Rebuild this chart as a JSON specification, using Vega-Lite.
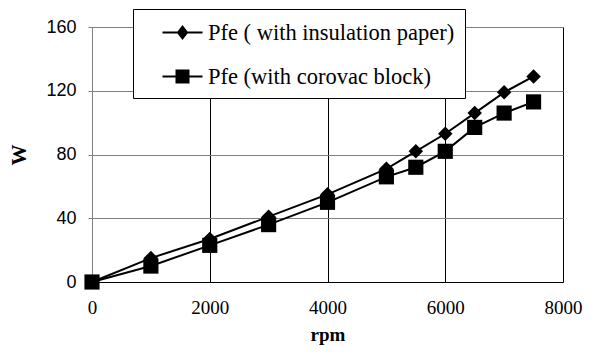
{
  "$schema": "https://vega.github.io/schema/vega-lite/v6.json",
  "width": 471,
  "height": 255,
  "autosize": "none",
  "padding": {"left": 92, "top": 27, "right": 32, "bottom": 76},
  "background": "white",
  "config": {
    "view": {"stroke": "#808080", "strokeWidth": 1},
    "font": "Liberation Serif"
  },
  "data": {
    "values": [
      {"rpm": 0, "W": 0, "series": "Pfe ( with insulation paper)"},
      {"rpm": 1000, "W": 15, "series": "Pfe ( with insulation paper)"},
      {"rpm": 2000, "W": 27, "series": "Pfe ( with insulation paper)"},
      {"rpm": 3000, "W": 41, "series": "Pfe ( with insulation paper)"},
      {"rpm": 4000, "W": 55, "series": "Pfe ( with insulation paper)"},
      {"rpm": 5000, "W": 71, "series": "Pfe ( with insulation paper)"},
      {"rpm": 5500, "W": 82, "series": "Pfe ( with insulation paper)"},
      {"rpm": 6000, "W": 93, "series": "Pfe ( with insulation paper)"},
      {"rpm": 6500, "W": 106, "series": "Pfe ( with insulation paper)"},
      {"rpm": 7000, "W": 119, "series": "Pfe ( with insulation paper)"},
      {"rpm": 7500, "W": 129, "series": "Pfe ( with insulation paper)"},
      {"rpm": 0, "W": 0, "series": "Pfe (with corovac block)"},
      {"rpm": 1000, "W": 10, "series": "Pfe (with corovac block)"},
      {"rpm": 2000, "W": 23, "series": "Pfe (with corovac block)"},
      {"rpm": 3000, "W": 36, "series": "Pfe (with corovac block)"},
      {"rpm": 4000, "W": 50, "series": "Pfe (with corovac block)"},
      {"rpm": 5000, "W": 66, "series": "Pfe (with corovac block)"},
      {"rpm": 5500, "W": 72, "series": "Pfe (with corovac block)"},
      {"rpm": 6000, "W": 82, "series": "Pfe (with corovac block)"},
      {"rpm": 6500, "W": 97, "series": "Pfe (with corovac block)"},
      {"rpm": 7000, "W": 106, "series": "Pfe (with corovac block)"},
      {"rpm": 7500, "W": 113, "series": "Pfe (with corovac block)"}
    ]
  },
  "encoding": {
    "x": {
      "field": "rpm", "type": "quantitative",
      "scale": {"domain": [0, 8000], "nice": false},
      "axis": {
        "values": [0, 2000, 4000, 6000, 8000], "format": "d", "labelFlush": false,
        "title": "rpm", "titleFont": "Liberation Serif", "titleFontSize": 19, "titleFontWeight": "bold", "titleColor": "#000", "titlePadding": 8,
        "labelFont": "Liberation Serif", "labelFontSize": 19, "labelColor": "#000", "labelPadding": 16,
        "ticks": false, "domain": true, "domainColor": "#000",
        "grid": true, "gridColor": "#000", "gridWidth": 1
      }
    },
    "y": {
      "field": "W", "type": "quantitative",
      "scale": {"domain": [0, 160], "nice": false},
      "axis": {
        "values": [0, 40, 80, 120, 160], "labelFlush": false,
        "title": "W", "titleFont": "Liberation Serif", "titleFontSize": 21, "titleFontWeight": "bold", "titleColor": "#000", "titlePadding": 16,
        "labelFont": "Liberation Sans", "labelFontSize": 18, "labelColor": "#000", "labelPadding": 12,
        "ticks": true, "tickSize": 4, "tickColor": "#808080",
        "domain": true, "domainColor": "#808080",
        "grid": true, "gridColor": "#808080", "gridWidth": 1
      }
    }
  },
  "layer": [
    {
      "mark": {"type": "line", "color": "#000", "strokeWidth": 2},
      "encoding": {"detail": {"field": "series"}}
    },
    {
      "mark": {"type": "point", "filled": true, "color": "#000", "opacity": 1, "strokeWidth": 0},
      "encoding": {
        "shape": {"field": "series", "type": "nominal", "scale": {"domain": ["Pfe ( with insulation paper)", "Pfe (with corovac block)"], "range": ["diamond", "square"]}, "legend": null},
        "size": {"field": "series", "type": "nominal", "scale": {"domain": ["Pfe ( with insulation paper)", "Pfe (with corovac block)"], "range": [210, 230]}, "legend": null}
      }
    },
    {
      "mark": {"type": "point", "filled": true, "color": "#000", "opacity": 0, "size": 625},
      "encoding": {
        "shape": {
          "field": "series", "type": "nominal",
          "scale": {"domain": ["Pfe ( with insulation paper)", "Pfe (with corovac block)"], "range": ["M-1.6,-0.08H-0.4L0,-0.6L0.4,-0.08H1.6V0.08H0.4L0,0.6L-0.4,0.08H-1.6Z", "M-1.6,-0.08H-0.56V-0.56H0.56V-0.08H1.6V0.08H0.56V0.56H-0.56V0.08H-1.6Z"]},
          "legend": {
            "title": null, "orient": "none", "legendX": 41, "legendY": -18,
            "fillColor": "#fff", "strokeColor": "#000", "padding": 10,
            "symbolSize": 625, "symbolOpacity": 1,
            "symbolOffset": 26, "labelOffset": 12, "rowPadding": 19,
            "labelFont": "Liberation Serif", "labelFontSize": 22.5, "labelColor": "#000", "labelLimit": 400,
            "encode": {"symbols": {"update": {"fill": {"value": "#000"}, "fillOpacity": {"value": 1}, "strokeWidth": {"value": 0}, "opacity": {"value": 1}}}}
          }
        }
      }
    }
  ],
  "resolve": {"scale": {"shape": "independent"}}
}
